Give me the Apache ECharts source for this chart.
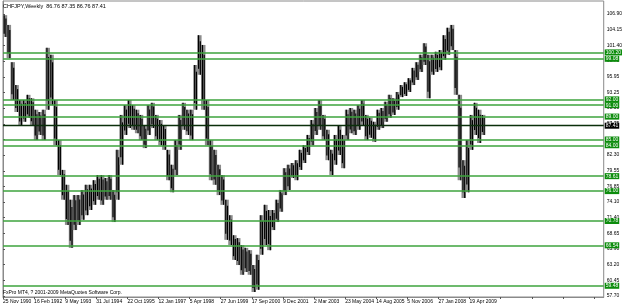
<!DOCTYPE html>
<html>
<head>
<meta charset="utf-8">
<script src="https://cdn.jsdelivr.net/npm/echarts@6/dist/echarts.min.js"></script>
<style>
html,body{margin:0;padding:0;background:#fff;}
#chart{width:625px;height:306px;}
</style>
</head>
<body>
<div id="chart"></div>
<script>
// ---- data (weekly CHFJPY, high/low read per 8-week period) ----
const periodWeeks = 8;
const highs = [106.7,105.0,98.5,94.5,91.9,91.9,92.8,92.2,90.2,89.8,
  90.2,101.0,99.8,91.9,84.9,79.7,77.1,74.5,75.3,75.3,
  76.2,77.1,77.1,77.9,78.8,78.8,78.3,78.8,76.2,83.2,
  89.3,91.0,91.9,91.0,90.2,89.3,87.5,91.0,91.4,89.3,
  88.4,87.5,83.2,80.6,84.9,89.3,91.4,90.2,90.2,98.0,
  103.2,101.5,91.9,84.9,83.2,80.6,78.8,74.5,71.8,68.3,
  67.8,66.6,66.1,65.7,63.1,64.9,71.8,73.6,72.7,72.7,
  74.5,76.2,80.0,80.6,80.9,81.4,83.2,84.0,85.8,88.4,
  90.5,91.9,89.3,86.7,83.2,85.8,87.5,85.8,90.2,90.5,
  90.2,91.0,91.9,89.3,88.8,88.1,90.2,90.5,91.6,92.8,
  92.2,93.3,94.5,95.0,95.7,97.5,98.5,99.8,101.8,99.8,
  99.8,100.3,100.6,103.2,104.5,105.0,100.6,92.8,81.4,84.9,
  89.3,91.4,90.2,89.3];
const lows = [102.9,99.2,91.9,89.8,87.5,88.1,88.8,87.5,84.9,85.8,
  84.9,90.2,91.0,84.0,78.8,74.5,70.1,66.1,69.2,70.1,
  71.0,71.8,72.7,73.6,74.5,73.6,74.5,74.5,70.6,74.5,
  80.6,85.8,87.0,86.7,86.1,84.9,83.5,85.8,87.0,84.9,
  84.0,83.2,77.9,75.8,78.8,83.2,86.7,85.8,84.9,90.2,
  96.3,90.2,84.0,77.9,77.1,75.3,73.6,67.5,66.6,64.0,
  63.1,61.4,61.9,61.4,58.4,58.8,64.9,66.6,65.7,69.2,
  70.6,72.4,75.3,76.2,78.3,77.9,79.7,80.9,82.3,84.0,
  85.8,86.7,84.9,81.4,78.8,80.6,82.3,80.0,84.9,86.1,
  85.8,86.7,87.5,84.9,85.3,84.6,86.7,87.0,88.1,88.8,
  89.3,90.2,92.4,92.6,93.3,94.5,95.4,96.8,98.0,92.2,
  96.3,96.8,97.1,98.9,99.8,100.6,92.8,77.9,74.8,75.8,
  83.2,85.8,84.4,85.8];

const levelValues = [100.20, 99.08, 92.00, 91.00, 89.00, 85.00, 84.00, 78.61, 76.00, 70.78, 66.54, 59.48];
const bidValue = 87.41;

const yTicks = [57.70,60.45,63.20,65.90,68.65,71.40,74.10,76.85,79.55,82.30,85.00,87.75,90.50,93.25,95.95,98.70,101.40,104.15,106.90];

const labelWeeks = 64;
const dateLabels = ['25 Nov 1990','16 Feb 1992','9 May 1993','31 Jul 1994','22 Oct 1995','12 Jan 1997','5 Apr 1998','27 Jun 1999','17 Sep 2000','9 Dec 2001','2 Mar 2003','23 May 2004','14 Aug 2005','5 Nov 2006','27 Jan 2008','19 Apr 2009'];

const titleText = 'CHFJPY,Weekly  86.76 87.35 86.76 87.41';
const footerText = 'FxPro MT4, ? 2001-2009 MetaQuotes Software Corp.';

// ---- build ----
const bars = highs.map((h, i) => [i * periodWeeks, (i + 1) * periodWeeks, lows[i], h]);
const FONT = 'Liberation Sans, Arial, sans-serif';

const chart = echarts.init(document.getElementById('chart'), null, {renderer: 'canvas'});

const lineData = levelValues.map(v => ({
  yAxis: v,
  lineStyle: {color: '#3da33d', width: 1.5, type: 'solid'},
  label: {formatter: v.toFixed(2), backgroundColor: '#0c8c0c', color: '#fff'}
}));
lineData.push({
  yAxis: bidValue,
  lineStyle: {color: '#0b2f0b', width: 1.3, type: 'solid'},
  label: {formatter: bidValue.toFixed(2), backgroundColor: '#000', color: '#fff'}
});

chart.setOption({
  animation: false,
  backgroundColor: '#fff',
  grid: {left: 1, top: 1, right: 19, bottom: 9, show: true, borderColor: '#8a8a8a', borderWidth: 1, backgroundColor: '#fff'},
  xAxis: {
    type: 'value', min: 0, max: 1236, interval: labelWeeks,
    axisLine: {show: true, lineStyle: {color: '#8a8a8a', width: 1}},
    axisTick: {show: true, length: 2, lineStyle: {color: '#555'}},
    splitLine: {show: false},
    axisLabel: {
      show: true, fontSize: 5, fontFamily: FONT, color: '#000', align: 'left', margin: 2,
      showMaxLabel: false,
      formatter: v => dateLabels[Math.round(v / labelWeeks)] || ''
    }
  },
  yAxis: {
    type: 'value', position: 'right', min: 57.525, max: 109.168, scale: true,
    axisLine: {show: true, lineStyle: {color: '#8a8a8a', width: 1}},
    axisTick: {show: true, length: 2, customValues: yTicks, lineStyle: {color: '#555'}},
    splitLine: {show: false},
    axisLabel: {
      show: true, fontSize: 5, fontFamily: FONT, color: '#000', margin: 3,
      customValues: yTicks,
      formatter: v => v.toFixed(2)
    }
  },
  graphic: [
    {type: 'text', left: 3, top: 3, z: 100, style: {text: titleText, fontSize: 5.5, fontFamily: FONT, fill: '#000'}},
    {type: 'text', left: 3, top: 290, z: 100, style: {text: footerText, fontSize: 5, fontFamily: FONT, fill: '#000'}}
  ],
  series: [{
    type: 'custom',
    data: bars,
    encode: {x: [0, 1], y: [2, 3]},
    clip: true,
    renderItem: function (params, api) {
      const p0 = api.coord([api.value(0), api.value(3)]);
      const p1 = api.coord([api.value(1), api.value(2)]);
      const w = p1[0] - p0[0];
      const h = p1[1] - p0[1];
      return {
        type: 'group',
        children: [
          {type: 'rect', shape: {x: p0[0] - 0.3, y: p0[1], width: w + 0.6, height: h}, style: {fill: '#8c8c8c'}},
          {type: 'line', shape: {x1: p0[0] + w * 0.3, y1: p0[1], x2: p0[0] + w * 0.3, y2: p1[1] - h * 0.15}, style: {stroke: '#000', lineWidth: 1.2}},
          {type: 'line', shape: {x1: p0[0] + w * 0.75, y1: p0[1] + h * 0.15, x2: p0[0] + w * 0.75, y2: p1[1]}, style: {stroke: '#000', lineWidth: 1.2}}
        ]
      };
    },
    markLine: {
      silent: true,
      symbol: ['none', 'none'],
      animation: false,
      label: {show: true, position: 'end', distance: 1, fontSize: 5, fontFamily: FONT, padding: [1, 1, 0, 1], lineHeight: 5},
      data: lineData
    }
  }]
});
</script>
</body>
</html>
